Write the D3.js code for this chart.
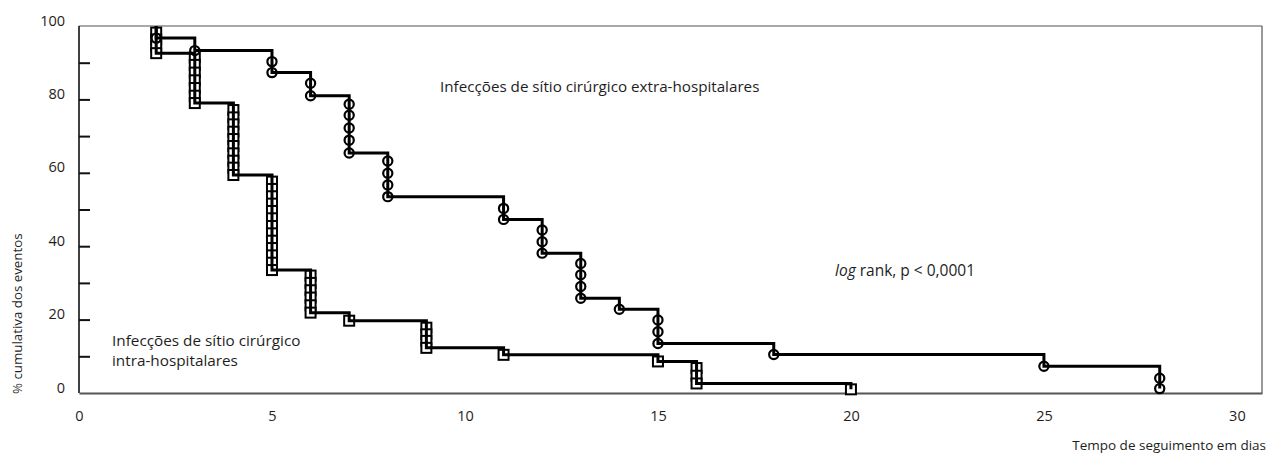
<!DOCTYPE html>
<html>
<head>
<meta charset="utf-8">
<script src="https://cdn.jsdelivr.net/npm/d3@7"></script>
<style>
  body { margin: 0; background: #fff; }
  svg text { font-family: "Open Sans", Lato, sans-serif; fill: #1e1e1e; }
</style>
</head>
<body>
<div id="chart"></div>
<script>
// event times (days) and survival level after each event, one entry per marker
const extraTimes = [2, 3, 5, 5, 6, 6, 7, 7, 7, 7, 7, 8, 8, 8, 8, 11, 11, 12, 12, 12,
  13, 13, 13, 13, 14, 15, 15, 15, 18, 25, 28, 28];
const extraLevels = [96.7, 93.3, 90.3, 87.3, 84.4, 81.0, 78.7, 75.7, 72.2, 68.9, 65.4,
  63.2, 59.9, 56.7, 53.5, 50.3, 47.3, 44.4, 41.2, 38.1, 35.3, 32.2, 29.0, 25.8,
  22.8, 19.9, 16.7, 13.5, 10.5, 7.3, 4.0, 1.2];

const intraTimes = [2, 2, 2, 2, 3, 3, 3, 3, 3, 3, 3, 4, 4, 4, 4, 4, 4, 4, 4, 4, 4,
  5, 5, 5, 5, 5, 5, 5, 5, 5, 5, 5, 5, 5, 6, 6, 6, 6, 6, 6, 7, 9, 9, 9, 9, 11, 15,
  16, 16, 16, 20];
const intraLevels = [98.2, 96.3, 94.5, 92.6,
  91.5, 89.4, 87.3, 85.2, 83.1, 81.0, 79.0,
  77.1, 75.1, 73.2, 71.2, 69.2, 67.3, 65.3, 63.3, 61.4, 59.4,
  57.6, 55.6, 53.6, 51.6, 49.6, 47.6, 45.5, 43.5, 41.5, 39.5, 37.5, 35.5, 33.5,
  32.0, 30.0, 28.0, 26.0, 23.9, 21.9,
  19.7,
  17.8, 16.0, 14.2, 12.3,
  10.4,
  8.6,
  6.8, 4.7, 2.6,
  1.0];

const xTicks = [0, 5, 10, 15, 20, 25, 30];
const yTicks = [0, 10, 20, 30, 40, 50, 60, 70, 80, 90, 100];
const startDay = 2;

const width = 1268, height = 454;
const margin = { top: 26, right: 6, bottom: 61, left: 79 };

const svg = d3.select('#chart').append('svg')
  .attr('width', width)
  .attr('height', height);

const x = d3.scaleLinear().domain([0, 30.65]).range([margin.left, width - margin.right]);
const y = d3.scaleLinear().domain([0, 100]).range([height - margin.bottom, margin.top]);

// frame
svg.append('line')
  .attr('x1', x(0)).attr('x2', x(30.65))
  .attr('y1', y(100)).attr('y2', y(100))
  .attr('stroke', '#555').attr('stroke-width', 1.2);
svg.append('line')
  .attr('x1', x(30.65)).attr('x2', x(30.65))
  .attr('y1', y(100)).attr('y2', y(0))
  .attr('stroke', '#555').attr('stroke-width', 1.2);

// y axis, ticks pointing inward
const yAxis = svg.append('g')
  .attr('transform', 'translate(' + x(0) + ',0)')
  .call(d3.axisLeft(y)
    .tickValues(yTicks)
    .tickSize(-11)
    .tickPadding(14)
    .tickFormat(function (d) { return d % 20 === 0 ? d : ''; }));
yAxis.select('.domain').remove();
yAxis.selectAll('.tick line')
  .attr('stroke', '#111')
  .attr('stroke-width', 2)
  .attr('display', function (d) { return (d === 0 || d === 100) ? 'none' : null; });
yAxis.selectAll('.tick text')
  .attr('y', -5.5)
  .style('font-size', '14.5px');
svg.append('line')
  .attr('x1', x(0)).attr('x2', x(0))
  .attr('y1', y(100)).attr('y2', y(0))
  .attr('stroke', '#111').attr('stroke-width', 1.6);

// x axis, labels only
const xAxis = svg.append('g')
  .attr('transform', 'translate(0,' + y(0) + ')')
  .call(d3.axisBottom(x)
    .tickValues(xTicks)
    .tickSize(0)
    .tickPadding(18));
xAxis.select('.domain').attr('stroke', '#555').attr('stroke-width', 2.2);
xAxis.selectAll('.tick text').style('font-size', '14.5px');

// axis titles
svg.append('text')
  .attr('transform', 'translate(22,' + 394 + ') rotate(-90)')
  .attr('text-anchor', 'start')
  .style('font-size', '13.3px')
  .text('% cumulativa dos eventos');

svg.append('text')
  .attr('x', 1266)
  .attr('y', 450)
  .attr('text-anchor', 'end')
  .style('font-size', '13.5px')
  .text('Tempo de seguimento em dias');

// curves
function stepPoints(times, levels) {
  const pts = [[startDay, 100]];
  times.forEach(function (t, i) { pts.push([t, levels[i]]); });
  return pts;
}

const line = d3.line()
  .x(function (d) { return x(d[0]); })
  .y(function (d) { return y(d[1]); })
  .curve(d3.curveStepAfter);

const sq = 10;
svg.append('g').selectAll('rect')
  .data(intraTimes.map(function (t, i) { return [t, intraLevels[i]]; }))
  .enter().append('rect')
  .attr('x', function (d) { return x(d[0]) - sq / 2; })
  .attr('y', function (d) { return y(d[1]) - sq / 2; })
  .attr('width', sq)
  .attr('height', sq)
  .attr('fill', '#fff')
  .attr('stroke', '#000')
  .attr('stroke-width', 2);

svg.append('g').selectAll('circle')
  .data(extraTimes.map(function (t, i) { return [t, extraLevels[i]]; }))
  .enter().append('circle')
  .attr('cx', function (d) { return x(d[0]); })
  .attr('cy', function (d) { return y(d[1]); })
  .attr('r', 4.6)
  .attr('fill', '#fff')
  .attr('stroke', '#000')
  .attr('stroke-width', 2.2);

svg.append('path')
  .attr('d', line(stepPoints(intraTimes, intraLevels)))
  .attr('fill', 'none')
  .attr('stroke', '#000')
  .attr('stroke-width', 3);

svg.append('path')
  .attr('d', line(stepPoints(extraTimes, extraLevels)))
  .attr('fill', 'none')
  .attr('stroke', '#000')
  .attr('stroke-width', 3);

// annotations
svg.append('text')
  .attr('x', 440).attr('y', 92)
  .style('font-size', '15.2px')
  .text('Infecções de sítio cirúrgico extra-hospitalares');

const intraLabel = svg.append('text')
  .attr('x', 112).attr('y', 346)
  .style('font-size', '15.3px');
intraLabel.append('tspan').text('Infecções de sítio cirúrgico');
intraLabel.append('tspan').attr('x', 112).attr('dy', 20).text('intra-hospitalares');

const logText = svg.append('text')
  .attr('x', 835).attr('y', 276)
  .style('font-size', '15.5px');
logText.append('tspan').style('font-style', 'italic').text('log');
logText.append('tspan').text(' rank, p < 0,0001');
</script>
</body>
</html>
